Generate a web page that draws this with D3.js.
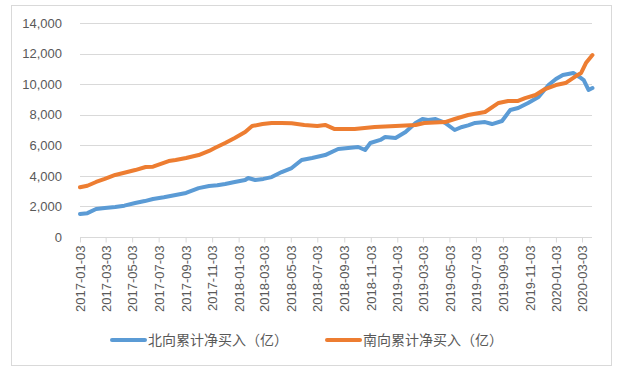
<!DOCTYPE html>
<html><head><meta charset="utf-8">
<script src="https://cdn.jsdelivr.net/npm/d3@7"></script>
<style>
html,body{margin:0;padding:0;background:#fff;}
text{font-family:"Liberation Sans","Noto Sans CJK SC",sans-serif;}
</style></head>
<body>
<svg id="chart" width="630" height="382"></svg>
<script>
const yTicks = [0, 2000, 4000, 6000, 8000, 10000, 12000, 14000];
const xTickLabels = ["2017-01-03","2017-03-03","2017-05-03","2017-07-03","2017-09-03","2017-11-03",
  "2018-01-03","2018-03-03","2018-05-03","2018-07-03","2018-09-03","2018-11-03",
  "2019-01-03","2019-03-03","2019-05-03","2019-07-03","2019-09-03","2019-11-03",
  "2020-01-03","2020-03-03"];
const seriesNames = ["北向累计净买入（亿）", "南向累计净买入（亿）"];

const northDates = ["2017-01-03","2017-01-20","2017-02-09","2017-03-01","2017-03-25","2017-04-15","2017-05-10","2017-06-01","2017-06-20","2017-07-15","2017-08-11","2017-09-04","2017-10-03","2017-10-27","2017-11-15","2017-12-03","2017-12-25","2018-01-18","2018-01-25","2018-02-10","2018-03-01","2018-03-20","2018-04-12","2018-05-05","2018-05-28","2018-06-21","2018-07-21","2018-08-20","2018-09-12","2018-10-05","2018-10-21","2018-11-02","2018-11-25","2018-12-06","2018-12-30","2019-01-22","2019-02-14","2019-03-02","2019-03-15","2019-04-01","2019-04-23","2019-05-15","2019-06-01","2019-06-15","2019-07-01","2019-07-24","2019-08-09","2019-09-01","2019-09-20","2019-10-08","2019-10-31","2019-11-24","2019-12-17","2020-01-03","2020-01-19","2020-02-12","2020-02-26","2020-03-07","2020-03-18","2020-03-27"];
const northValues = [1500,1560,1830,1900,1960,2050,2220,2350,2490,2600,2750,2880,3200,3340,3380,3470,3600,3730,3860,3730,3800,3920,4250,4510,5040,5170,5360,5760,5820,5890,5690,6150,6350,6540,6480,6870,7460,7720,7650,7720,7460,7000,7200,7300,7460,7520,7390,7590,8310,8440,8770,9160,9940,10340,10600,10730,10470,10270,9620,9750];

const southDates = ["2017-01-03","2017-01-20","2017-02-09","2017-03-01","2017-03-25","2017-04-15","2017-05-10","2017-06-03","2017-06-20","2017-07-26","2017-08-11","2017-09-04","2017-10-03","2017-10-27","2017-11-09","2017-12-03","2017-12-25","2018-01-18","2018-02-03","2018-02-27","2018-03-20","2018-04-12","2018-05-05","2018-06-03","2018-07-03","2018-07-21","2018-08-12","2018-09-27","2018-11-12","2018-12-30","2019-02-14","2019-03-06","2019-04-23","2019-05-15","2019-06-15","2019-07-24","2019-08-24","2019-09-15","2019-10-08","2019-10-24","2019-11-17","2019-12-09","2020-01-03","2020-01-25","2020-02-18","2020-03-01","2020-03-12","2020-03-27"];
const southValues = [3250,3350,3600,3800,4060,4200,4380,4580,4600,4970,5040,5170,5360,5630,5820,6150,6480,6870,7260,7390,7460,7460,7440,7330,7260,7330,7060,7060,7200,7260,7330,7460,7520,7720,7980,8180,8770,8900,8900,9090,9290,9680,9940,10070,10530,10730,11380,11900];

const colors = ["#5B9BD5", "#ED7D31"];

const svg = d3.select("#chart");
const parse = d3.timeParse("%Y-%m-%d");

svg.append("rect").attr("x", 11.5).attr("y", 5.5).attr("width", 600).attr("height", 360)
  .attr("fill", "#fff").attr("stroke", "#d9d9d9");

const x = d3.scaleTime().domain([parse("2017-01-03"), parse("2020-03-03")]).range([80, 582]);
const y = d3.scaleLinear().domain([0, 14000]).range([237, 23]);
const plotRight = 592;

// gridlines
svg.append("g").selectAll("line").data(yTicks.filter(d => d > 0)).join("line")
  .attr("x1", 80).attr("x2", plotRight)
  .attr("y1", d => Math.round(y(d)) + 0.5).attr("y2", d => Math.round(y(d)) + 0.5)
  .attr("stroke", "#d9d9d9").attr("stroke-width", 1);

// y labels
svg.append("g").selectAll("text").data(yTicks).join("text")
  .attr("x", 62).attr("y", d => y(d)).attr("dy", "0.36em")
  .attr("text-anchor", "end").attr("font-size", 13).attr("fill", "#595959")
  .text(d => d3.format(",")(d));

// x axis
const xAxis = d3.axisBottom(x)
  .tickValues(xTickLabels.map(parse))
  .tickFormat(d3.timeFormat("%Y-%m-%d"))
  .tickSizeOuter(0).tickSize(5);
const gx = svg.append("g").attr("transform", "translate(0,237.5)").call(xAxis);
gx.select(".domain").attr("d", `M80,0H${plotRight}`).attr("stroke", "#d9d9d9");
gx.selectAll(".tick line").attr("stroke", "#d9d9d9");
gx.selectAll(".tick text")
  .attr("font-size", 13).attr("fill", "#595959")
  .attr("font-family", "Liberation Sans, sans-serif")
  .attr("transform", "rotate(-90)")
  .attr("text-anchor", "end").attr("x", -8).attr("y", 0).attr("dy", "0.36em");

// lines
const line = d3.line().x(d => x(d[0])).y(d => y(d[1])).curve(d3.curveLinear);
const north = northDates.map((d, i) => [parse(d), northValues[i]]);
const south = southDates.map((d, i) => [parse(d), southValues[i]]);
[north, south].forEach((data, i) => {
  svg.append("path").datum(data).attr("d", line)
    .attr("fill", "none").attr("stroke", colors[i]).attr("stroke-width", 4)
    .attr("stroke-linejoin", "round").attr("stroke-linecap", "round");
});

// legend
const legendX = [112, 327];
seriesNames.forEach((name, i) => {
  const g = svg.append("g");
  g.append("line").attr("x1", legendX[i]).attr("x2", legendX[i] + 33)
    .attr("y1", 340).attr("y2", 340).attr("stroke", colors[i]).attr("stroke-width", 4)
    .attr("stroke-linecap", "round");
  g.append("text").attr("x", legendX[i] + 36).attr("y", 340).attr("dy", "0.36em")
    .attr("font-size", 14).attr("fill", "#595959").text(name);
});
</script>
</body></html>
